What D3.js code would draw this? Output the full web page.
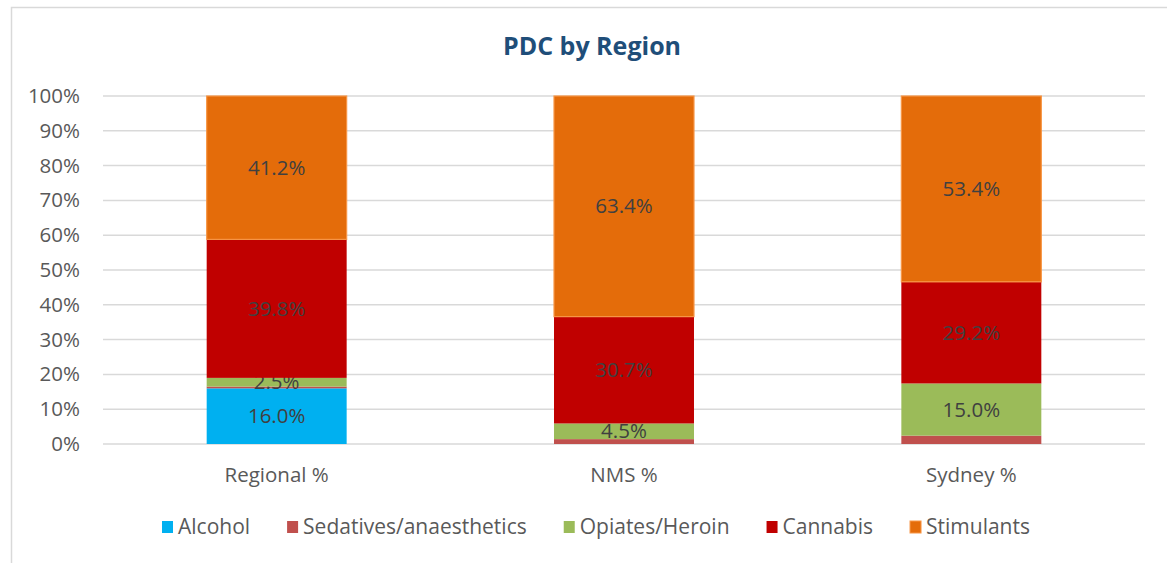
<!DOCTYPE html>
<html>
<head>
<meta charset="utf-8">
<script src="https://cdn.jsdelivr.net/npm/d3@7"></script>
<style>
  body { margin: 0; background: #fff; }
  svg text { font-family: "Open Sans", sans-serif; }
</style>
</head>
<body>
<div id="chart"></div>
<script>
// data
var regions = ['Regional %', 'NMS %', 'Sydney %'];
var drugs = ['Alcohol', 'Sedatives/anaesthetics', 'Opiates/Heroin', 'Cannabis', 'Stimulants'];
var alcohol = [16.0, 0, 0];
var sedatives = [0.5, 1.4, 2.4];
var opiates = [2.5, 4.5, 15.0];
var cannabis = [39.8, 30.7, 29.2];
var stimulants = [41.2, 63.4, 53.4];
var yTicks = [0, 10, 20, 30, 40, 50, 60, 70, 80, 90, 100];
var colors = ['#00B0F0', '#C0504D', '#9BBB59', '#C00000', '#E46C0A'];
var showLabel = [true, false, true, true, true];

var W = 1167, H = 563;
var margin = {top: 96, right: 22, bottom: 119, left: 103};
var width = W - margin.left - margin.right,
    height = H - margin.top - margin.bottom;

var rows = regions.map(function(r, i) {
  return {region: r, 'Alcohol': alcohol[i], 'Sedatives/anaesthetics': sedatives[i],
    'Opiates/Heroin': opiates[i], 'Cannabis': cannabis[i], 'Stimulants': stimulants[i]};
});

var svg = d3.select('#chart').append('svg')
  .attr('width', W)
  .attr('height', H);

// chart frame
svg.append('rect')
  .attr('x', 11.5).attr('y', 7.5)
  .attr('width', W + 20).attr('height', H + 20)
  .attr('fill', 'none')
  .attr('stroke', '#d9d9d9')
  .attr('stroke-width', 1.5);

svg.append('text')
  .attr('x', 592)
  .attr('y', 55)
  .attr('text-anchor', 'middle')
  .style('font-size', '25px')
  .style('font-weight', 'bold')
  .style('fill', '#1F4E79')
  .text('PDC by Region');

var g = svg.append('g')
  .attr('transform', 'translate(' + margin.left + ',' + margin.top + ')');

var x = d3.scaleBand()
  .domain(regions)
  .range([0, width])
  .paddingInner(0.597)
  .paddingOuter(0.2985);

var y = d3.scaleLinear()
  .domain([0, 100])
  .range([height, 0]);

var color = d3.scaleOrdinal().domain(drugs).range(colors);

// gridlines
g.selectAll('.grid')
  .data(yTicks)
  .enter().append('line')
  .attr('x1', 0).attr('x2', width)
  .attr('y1', function(d) { return y(d); })
  .attr('y2', function(d) { return y(d); })
  .attr('stroke', '#d9d9d9')
  .attr('stroke-width', 1.5);

var yAxis = d3.axisLeft(y)
  .tickValues(yTicks)
  .tickSize(0)
  .tickPadding(23)
  .tickFormat(function(d) { return d + '%'; });

var ya = g.append('g').call(yAxis);
ya.select('.domain').remove();
ya.selectAll('text').style('font-size', '20.5px').style('fill', '#595959');

var xAxis = d3.axisBottom(x).tickSize(0).tickPadding(23);
var xa = g.append('g')
  .attr('transform', 'translate(0,' + height + ')')
  .call(xAxis);
xa.select('.domain').remove();
xa.selectAll('text').style('font-size', '20.5px').style('fill', '#595959');

var stack = d3.stack().keys(drugs);
var series = stack(rows);

var layer = g.selectAll('.layer')
  .data(series)
  .enter().append('g')
  .attr('class', 'layer');

layer.selectAll('rect')
  .data(function(d) { return d.map(function(p) { return {key: d.key, p: p}; }); })
  .enter().append('rect')
  .attr('x', function(d) { return x(d.p.data.region); })
  .attr('width', x.bandwidth())
  .attr('y', function(d) { return y(d.p[1]); })
  .attr('height', function(d) { return y(d.p[0]) - y(d.p[1]); })
  .attr('fill', function(d) { return color(d.key); })
  .attr('stroke', function(d) { return d.key == 'Stimulants' ? '#F79646' : 'none'; })
  .attr('stroke-width', 1.2);

layer.selectAll('text')
  .data(function(d) {
    var i = drugs.indexOf(d.key);
    return d.filter(function(p) { return showLabel[i] && p[1] - p[0] > 0; })
      .map(function(p) { return {key: d.key, p: p}; });
  })
  .enter().append('text')
  .attr('x', function(d) { return x(d.p.data.region) + x.bandwidth() / 2; })
  .attr('y', function(d) { return y((d.p[0] + d.p[1]) / 2); })
  .attr('dy', '0.35em')
  .attr('text-anchor', 'middle')
  .style('font-size', '20.5px')
  .style('fill', '#404040')
  .text(function(d) { return (d.p[1] - d.p[0]).toFixed(1) + '%'; });

// legend
var legend = svg.append('g').attr('transform', 'translate(0,527)');
var items = legend.selectAll('.item')
  .data(drugs)
  .enter().append('g')
  .attr('class', 'item');

items.append('rect')
  .attr('y', -6).attr('width', 11).attr('height', 12)
  .attr('fill', function(d) { return color(d); })
  .attr('stroke', function(d) { return d == 'Stimulants' ? '#F79646' : 'none'; });

items.append('text')
  .attr('x', 16)
  .attr('dy', '0.35em')
  .style('font-size', '21px')
  .style('fill', '#595959')
  .text(function(d) { return d; });

var gap = 37;
var pos = 0, offs = [];
items.each(function() {
  offs.push(pos);
  pos += 16 + this.querySelector('text').getComputedTextLength() + gap;
});
var total = pos - gap;
var start = 596 - total / 2;
items.attr('transform', function(d, i) { return 'translate(' + (start + offs[i]) + ',0)'; });
</script>
</body>
</html>
